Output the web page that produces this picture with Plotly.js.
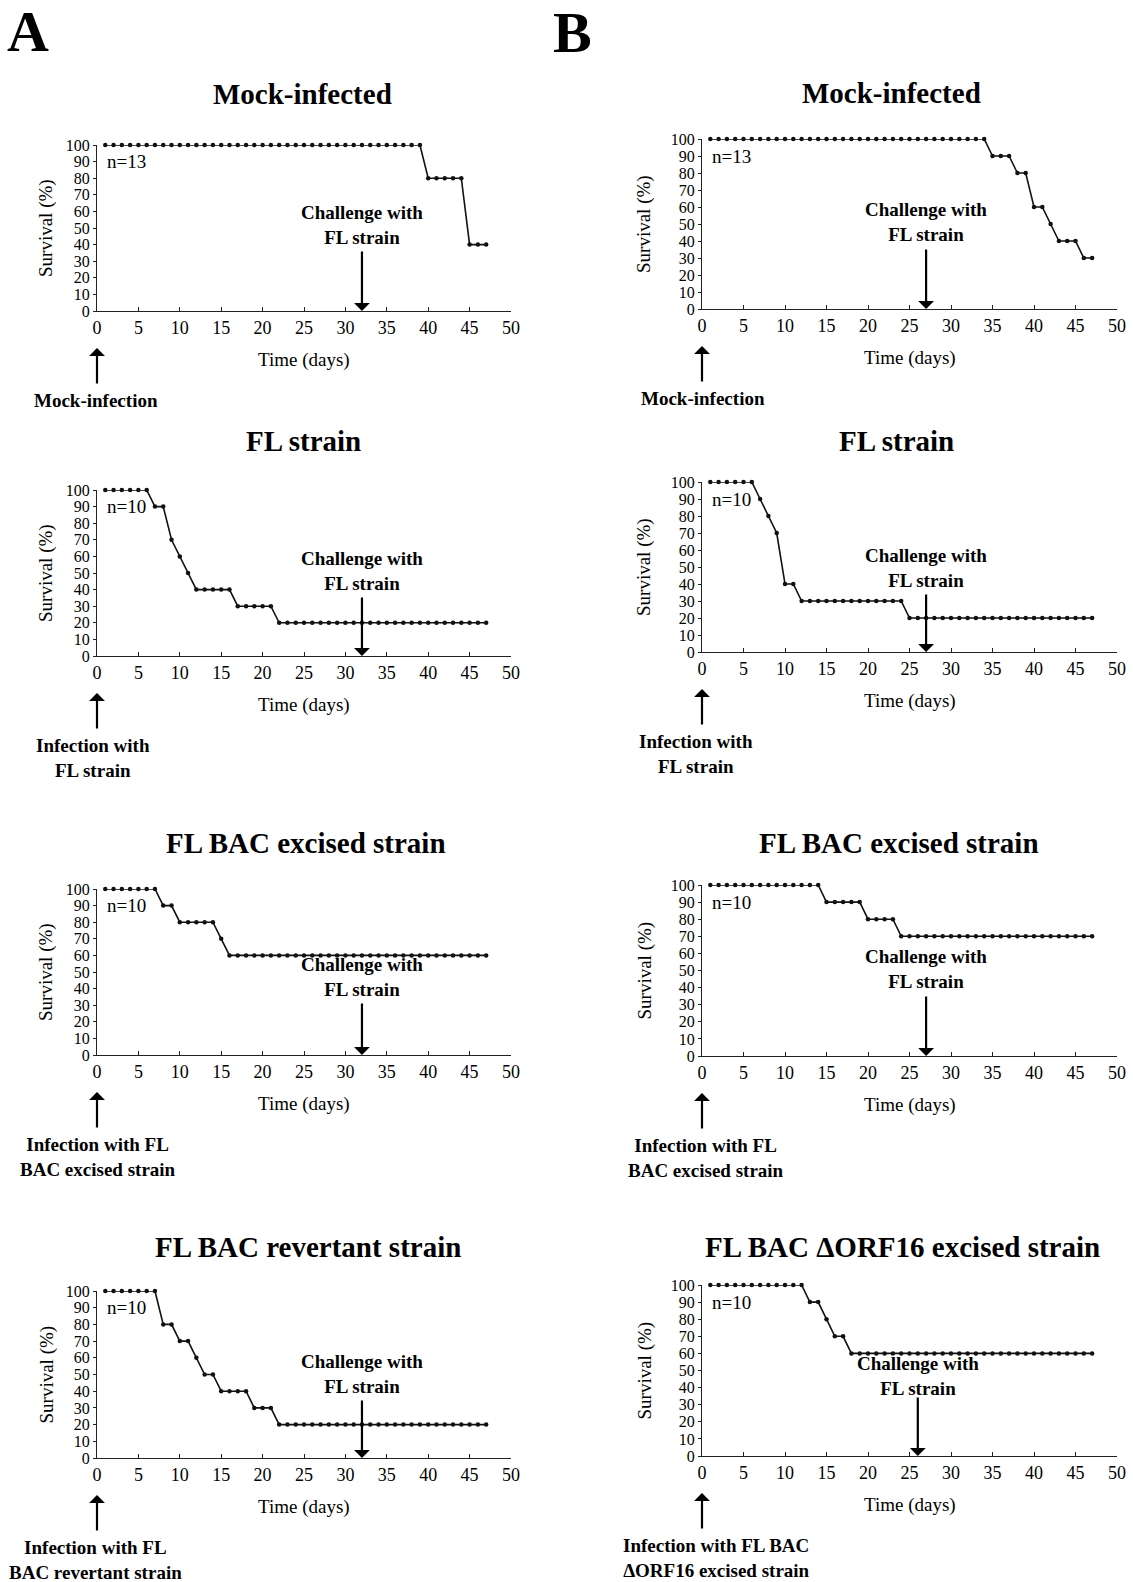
<!DOCTYPE html>
<html><head><meta charset="utf-8">
<script src="https://cdn.plot.ly/plotly-3.0.1.min.js"></script>
<style>html,body{margin:0;padding:0;background:#fff}</style>
</head><body><div id="chart" style="width:1133px;height:1582px"></div>
<script>
// ---------------- data ----------------
const days = [1,2,3,4,5,6,7,8,9,10,11,12,13,14,15,16,17,18,19,20,21,22,23,24,25,26,27,28,29,30,31,32,33,34,35,36,37,38,39,40,41,42,43,44,45,46,47];

const mockA = [100,100,100,100,100,100,100,100,100,100,100,100,100,100,100,100,100,100,100,100,100,100,100,100,100,100,100,100,100,100,100,100,100,100,100,100,100,100,100,80,80,80,80,80,40,40,40];
const flA = [100,100,100,100,100,100,90,90,70,60,50,40,40,40,40,40,30,30,30,30,30,20,20,20,20,20,20,20,20,20,20,20,20,20,20,20,20,20,20,20,20,20,20,20,20,20,20];
const excisedA = [100,100,100,100,100,100,100,90,90,80,80,80,80,80,70,60,60,60,60,60,60,60,60,60,60,60,60,60,60,60,60,60,60,60,60,60,60,60,60,60,60,60,60,60,60,60,60];
const revertantA = [100,100,100,100,100,100,100,80,80,70,70,60,50,50,40,40,40,40,30,30,30,20,20,20,20,20,20,20,20,20,20,20,20,20,20,20,20,20,20,20,20,20,20,20,20,20,20];

const mockB = [100,100,100,100,100,100,100,100,100,100,100,100,100,100,100,100,100,100,100,100,100,100,100,100,100,100,100,100,100,100,100,100,100,100,90,90,90,80,80,60,60,50,40,40,40,30,30];
const flB = [100,100,100,100,100,100,90,80,70,40,40,30,30,30,30,30,30,30,30,30,30,30,30,30,20,20,20,20,20,20,20,20,20,20,20,20,20,20,20,20,20,20,20,20,20,20,20];
const excisedB = [100,100,100,100,100,100,100,100,100,100,100,100,100,100,90,90,90,90,90,80,80,80,80,70,70,70,70,70,70,70,70,70,70,70,70,70,70,70,70,70,70,70,70,70,70,70,70];
const orf16B = [100,100,100,100,100,100,100,100,100,100,100,100,90,90,80,70,70,60,60,60,60,60,60,60,60,60,60,60,60,60,60,60,60,60,60,60,60,60,60,60,60,60,60,60,60,60,60];

const panelSeries = [mockA, flA, excisedA, revertantA, mockB, flB, excisedB, orf16B];
const panelTitles = ["Mock-infected","FL strain","FL BAC excised strain","FL BAC revertant strain",
                     "Mock-infected","FL strain","FL BAC excised strain","FL BAC \u0394ORF16 excised strain"];
const groupSizes = ["n=13","n=10","n=10","n=10","n=13","n=10","n=10","n=10"];
const challengeDays = [32,32,32,32,27,27,27,26];
const challengeText = "Challenge with<br>FL strain";
const infectionLabels = ["Mock-infection","Infection with<br>FL strain","Infection with FL<br>BAC excised strain","Infection with FL<br>BAC revertant strain",
                         "Mock-infection","Infection with<br>FL strain","Infection with FL<br>BAC excised strain","Infection with FL BAC<br>\u0394ORF16 excised strain"];
const xTickVals = [0,5,10,15,20,25,30,35,40,45,50];
const yTickVals = [0,10,20,30,40,50,60,70,80,90,100];
const panelLetters = ["A","B"];

// ---------------- layout geometry (pixels) ----------------
const W = 1133, H = 1582;
const FONT = "Liberation Serif, Times New Roman, serif";
const colX = [[97,511],[702,1117]];
const panelY = [[145,311],[490,656],[889,1055],[1291,1458],[139,309],[482,652],[885,1056],[1285,1456]];
const titleY = [94,441,843,1247,93,441,843,1247];
const titleX = [302,303,306,308,891,896,899,902];
const survX = [46,644];
const chCenter = [86.5,85,78,84,87.5,84.5,87.5,80.5];
const chLen = [61,60,53,59,61,59,61,60];
const infShift = [-1,-4,1,-2,1,-6,4,14];

const px = p => p / W;
const py = p => 1 - p / H;

const data = [];
const layout = {
  width: W, height: H,
  margin: {l:0, r:0, t:0, b:0},
  paper_bgcolor: "#fff", plot_bgcolor: "#fff",
  showlegend: false,
  font: {family: FONT, color: "#000"},
  annotations: []
};

panelSeries.forEach((vals, i) => {
  const n = i + 1;
  const col = i < 4 ? 0 : 1;
  const xs = n === 1 ? "x" : "x" + n;
  const ys = n === 1 ? "y" : "y" + n;
  const xa = n === 1 ? "xaxis" : "xaxis" + n;
  const ya = n === 1 ? "yaxis" : "yaxis" + n;
  const [l, r] = colX[col];
  const [t, b] = panelY[i];

  data.push({
    x: days, y: vals, xaxis: xs, yaxis: ys,
    type: "scatter", mode: "lines+markers",
    line: {color: "#111", width: 1.6},
    marker: {color: "#111", size: 4.5},
    cliponaxis: false,
    hoverinfo: "skip"
  });

  layout[xa] = {
    domain: [px(l), px(r)], anchor: ys,
    range: [0, 50], tickvals: xTickVals, ticktext: xTickVals.map(String),
    showline: true, linecolor: "#222", linewidth: 1,
    ticks: "inside", ticklen: 4, tickcolor: "#222",
    showgrid: false, zeroline: false, fixedrange: true,
    tickfont: {family: FONT, size: 18, color: "#000"}
  };
  layout[ya] = {
    domain: [py(b), py(t)], anchor: xs,
    range: [0, 100], tickvals: yTickVals, ticktext: yTickVals.map(String),
    showline: true, linecolor: "#222", linewidth: 1,
    ticks: "outside", ticklen: 3, tickcolor: "#222",
    showgrid: false, zeroline: false, fixedrange: true,
    tickfont: {family: FONT, size: 16, color: "#000"}
  };

  const A = layout.annotations;
  A.push({xref: "paper", yref: "paper", x: px(titleX[i]), y: py(titleY[i]),
          xanchor: "center", yanchor: "middle", showarrow: false,
          text: "<b>" + panelTitles[i] + "</b>", font: {family: FONT, size: 29, color: "#000"}});
  A.push({xref: xs, yref: ys, x: 1, y: 90, xanchor: "left", yanchor: "middle", showarrow: false,
          text: groupSizes[i], font: {family: FONT, size: 19, color: "#000"}});
  A.push({xref: "paper", yref: "paper", x: px(survX[col]), y: py((t + b) / 2),
          xanchor: "center", yanchor: "middle", showarrow: false, textangle: -90,
          text: "Survival (%)", font: {family: FONT, size: 19, color: "#000"}});
  A.push({xref: "paper", yref: "paper", x: px((l + r) / 2), y: py(b + 49),
          xanchor: "center", yanchor: "middle", showarrow: false,
          text: "Time (days)", font: {family: FONT, size: 19, color: "#000"}});
  A.push({xref: xs, yref: ys, x: challengeDays[i], y: 0, yshift: chCenter[i],
          xanchor: "center", yanchor: "middle", showarrow: false,
          text: "<b>" + challengeText + "</b>", font: {family: FONT, size: 19, color: "#000"}});
  A.push({xref: xs, yref: ys, x: challengeDays[i], y: 0, ax: 0, ay: -chLen[i], text: "",
          showarrow: true, arrowhead: 1, arrowsize: 1.2, arrowwidth: 2.2, arrowcolor: "#000"});
  A.push({xref: xs, yref: ys, x: 0, y: 0, yshift: -37, ax: 0, ay: 37, text: "",
          showarrow: true, arrowhead: 1, arrowsize: 1.2, arrowwidth: 2.2, arrowcolor: "#000"});
  const twoLines = infectionLabels[i].indexOf("<br>") >= 0;
  A.push({xref: xs, yref: ys, x: 0, y: 0, yshift: twoLines ? -102 : -89, xshift: infShift[i],
          xanchor: "center", yanchor: "middle", showarrow: false,
          text: "<b>" + infectionLabels[i] + "</b>", font: {family: FONT, size: 19, color: "#000"}});
});

layout.annotations.push({xref: "paper", yref: "paper", x: px(28), y: py(31), xanchor: "center", yanchor: "middle",
  showarrow: false, text: "<b>" + panelLetters[0] + "</b>", font: {family: FONT, size: 58, color: "#000"}});
layout.annotations.push({xref: "paper", yref: "paper", x: px(572), y: py(33), xanchor: "center", yanchor: "middle",
  showarrow: false, text: "<b>" + panelLetters[1] + "</b>", font: {family: FONT, size: 58, color: "#000"}});

Plotly.newPlot("chart", data, layout, {staticPlot: true, displayModeBar: false});
</script>
</body></html>
